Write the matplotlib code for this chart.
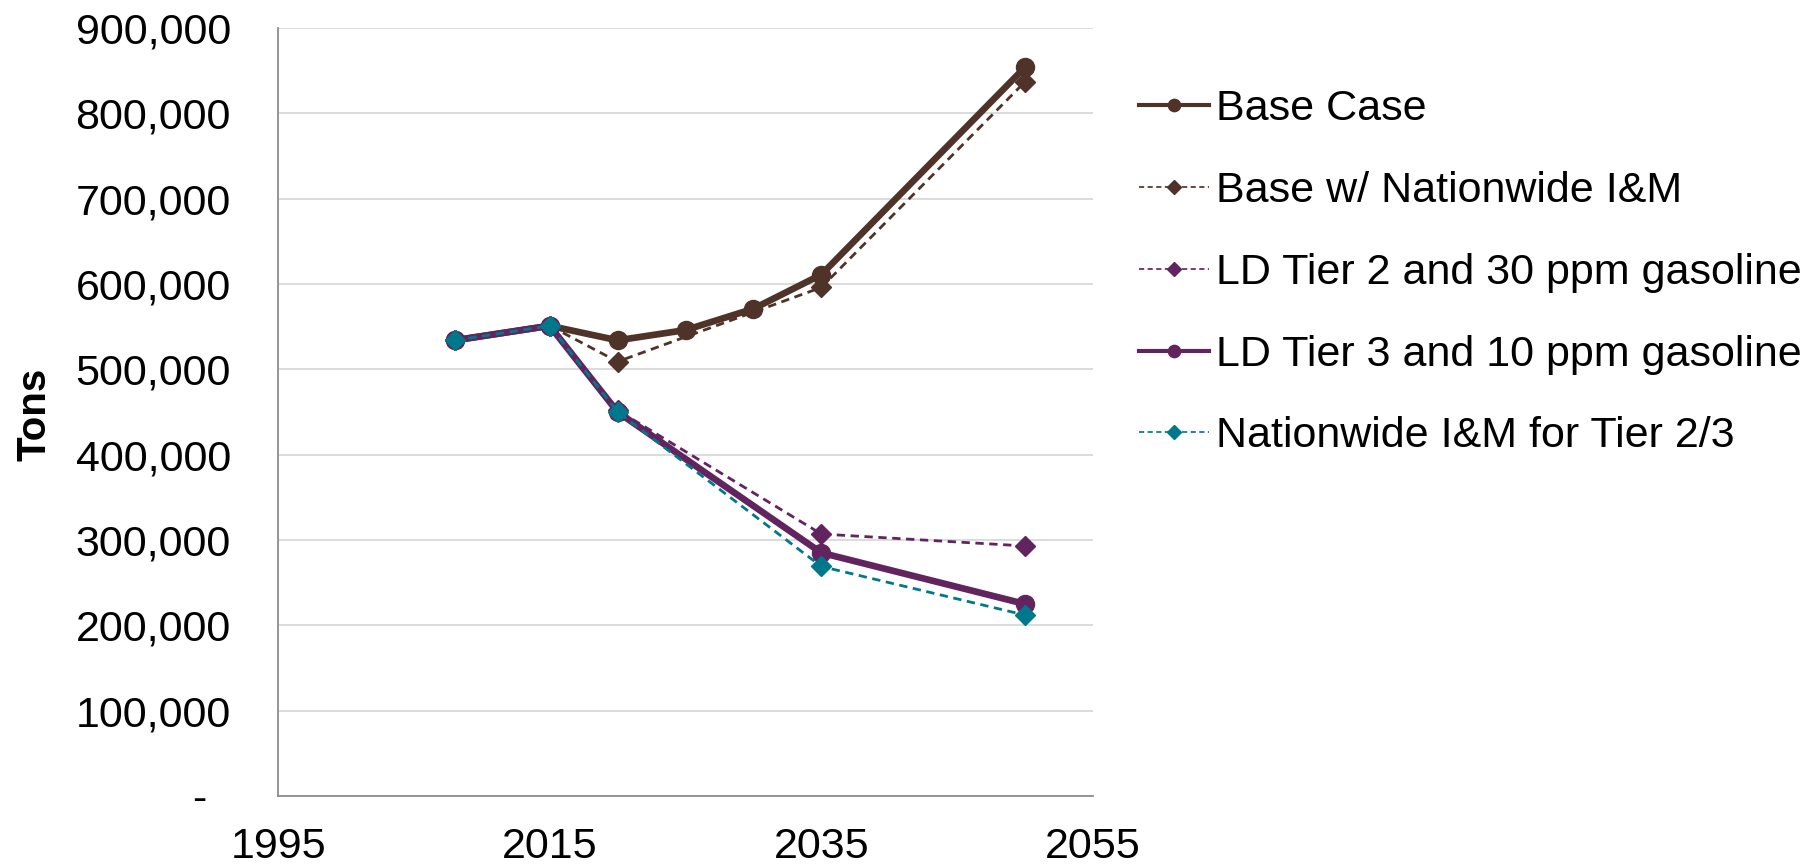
import numpy as np
import matplotlib
matplotlib.use("Agg")
import matplotlib.pyplot as plt
from matplotlib.lines import Line2D
from matplotlib.ticker import FuncFormatter

plt.rcParams['font.family'] = ['Liberation Sans', 'DejaVu Sans']

years = [2008, 2015, 2020, 2025, 2030, 2035, 2050]
base_case = [534000, 551000, 534000, 546000, 571000, 611000, 854000]
base_nim = [534000, 551000, 509000, None, None, 596000, 837000]
tier2_30ppm = [534000, 551000, 452000, None, None, 307000, 293000]
tier3_10ppm = [534000, 551000, 450000, None, None, 285000, 225000]
nim_tier23 = [534000, 551000, 450000, None, None, 269000, 212000]

labels = ["Base Case", "Base w/ Nationwide I&M", "LD Tier 2 and 30 ppm gasoline",
          "LD Tier 3 and 10 ppm gasoline", "Nationwide I&M for Tier 2/3"]

brown = "#4F3328"
purple = "#62245F"
teal = "#00788C"

series = [
    (base_case, brown, '-', 4.8, 'o', 13),
    (base_nim, brown, (0, (3, 2)), 2.0, 'D', 10),
    (tier2_30ppm, purple, (0, (3, 2)), 2.0, 'D', 10),
    (tier3_10ppm, purple, '-', 4.8, 'o', 13),
    (nim_tier23, teal, (0, (3, 2)), 2.0, 'D', 10),
]

fig = plt.figure(figsize=(18.14, 8.67), dpi=100)
ax = fig.add_axes([0.1533, 0.0819, 0.4492, 0.8858])

for vals, c, ls, lw, m, ms in series:
    x = [yr for yr, v in zip(years, vals) if v is not None]
    y = [v for v in vals if v is not None]
    ax.plot(x, y, color=c, linestyle=ls, linewidth=lw, marker=m, markersize=ms,
            markerfacecolor=c, markeredgecolor=c)

ax.set_xlim(1995, 2055)
ax.set_ylim(0, 900000)
ax.set_xticks([1995, 2015, 2035, 2055])
ax.set_yticks(np.arange(0, 900001, 100000))

def yfmt(v, pos):
    if v == 0:
        return "-  "
    return f"{int(v):,}"
ax.yaxis.set_major_formatter(FuncFormatter(yfmt))

ax.tick_params(axis='both', length=0, labelsize=31)
ax.tick_params(axis='y', pad=34)
ax.tick_params(axis='x', pad=22.5)
ax.grid(axis='y', color='#D9D9D9', linewidth=1.3)
ax.set_axisbelow(True)
for s in ['top', 'right']:
    ax.spines[s].set_visible(False)
for s in ['left', 'bottom']:
    ax.spines[s].set_color('#8C8C8C')
    ax.spines[s].set_linewidth(1.3)

fig.text(0.019, 0.522, "Tons", rotation=90, fontsize=29, fontweight='bold',
         va='center', ha='center')

handles = []
for (vals, c, ls, lw, m, ms) in series:
    handles.append(Line2D([], [], color=c, linestyle=ls, linewidth=lw * 0.62, marker=m,
                          markersize=ms * 0.68, markerfacecolor=c, markeredgecolor=c))
leg = fig.legend(handles, labels, loc='upper left', bbox_to_anchor=(0.628, 0.897),
                 frameon=False, fontsize=31, handlelength=1.62, handletextpad=0.16,
                 labelspacing=0.97, borderaxespad=0, borderpad=0)

fig.savefig("out.png", dpi=100)
